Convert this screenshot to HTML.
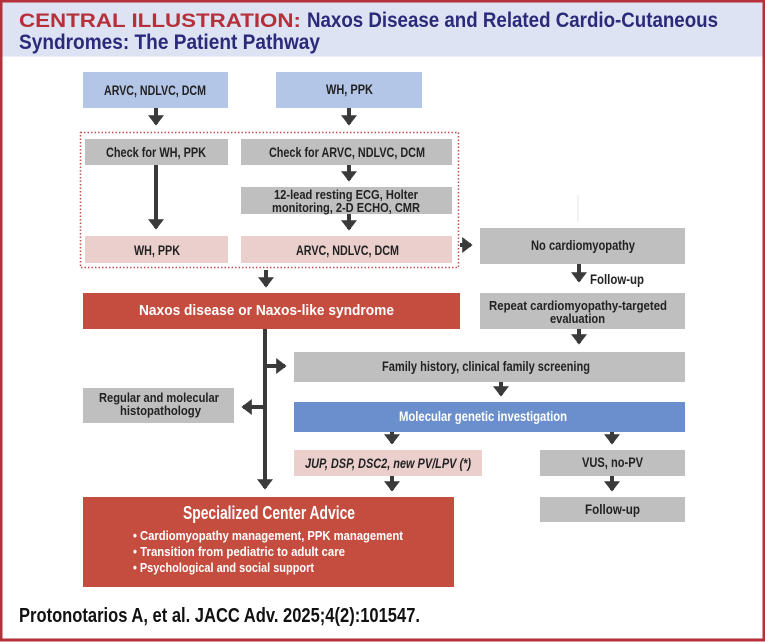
<!DOCTYPE html>
<html><head><meta charset="utf-8"><style>
html,body{margin:0;padding:0;background:#fff}
svg{display:block}
text{font-family:"Liberation Sans",sans-serif;font-weight:bold}
</style></head><body>
<svg width="765" height="642" viewBox="0 0 765 642" xmlns="http://www.w3.org/2000/svg">
<defs><marker id="a" markerWidth="4" markerHeight="4" refX="2.2" refY="2" orient="auto" markerUnits="strokeWidth"><path d="M0,0 L2.6,2 L0,4 Z" fill="#3a3a3a"/></marker></defs>
<rect x="1" y="1" width="763" height="639" fill="#fff" stroke="#b5303a" stroke-width="3"/>
<rect x="2.5" y="2.5" width="760" height="54" fill="#dde3f3"/>
<text x="19" y="27" font-size="19" fill="#b5303a" textLength="282" lengthAdjust="spacingAndGlyphs">CENTRAL ILLUSTRATION:</text>
<text x="307" y="27" font-size="21" fill="#2b2a7a" textLength="411" lengthAdjust="spacingAndGlyphs">Naxos Disease and Related Cardio-Cutaneous</text>
<text x="19" y="49" font-size="21" fill="#2b2a7a" textLength="301" lengthAdjust="spacingAndGlyphs">Syndromes: The Patient Pathway</text>
<g font-size="13.5" fill="#222">
<rect x="83" y="72" width="145" height="36" fill="#b4c6e7"/><text x="104" y="95" textLength="102" lengthAdjust="spacingAndGlyphs">ARVC, NDLVC, DCM</text>
<rect x="276" y="72" width="146" height="36" fill="#b4c6e7"/><text x="326" y="94" textLength="47" lengthAdjust="spacingAndGlyphs">WH, PPK</text>
<rect x="80.5" y="132.5" width="378" height="135" fill="none" stroke="#c0504d" stroke-width="1.5" stroke-dasharray="1.5,2"/>
<rect x="85" y="139" width="143" height="26" fill="#bfbfbf"/><text x="106" y="157" textLength="100" lengthAdjust="spacingAndGlyphs">Check for WH, PPK</text>
<rect x="241" y="139" width="211" height="26" fill="#bfbfbf"/><text x="269" y="157" textLength="156" lengthAdjust="spacingAndGlyphs">Check for ARVC, NDLVC, DCM</text>
<rect x="241" y="187" width="211" height="27" fill="#bfbfbf"/><text x="274" y="199" font-size="12.5" textLength="144" lengthAdjust="spacingAndGlyphs">12-lead resting ECG, Holter</text><text x="272" y="212" font-size="12.5" textLength="148" lengthAdjust="spacingAndGlyphs">monitoring, 2-D ECHO, CMR</text>
<rect x="85" y="236" width="143" height="27" fill="#ebcfcc"/><text x="134" y="255" textLength="46" lengthAdjust="spacingAndGlyphs">WH, PPK</text>
<rect x="241" y="236" width="211" height="27" fill="#ebcfcc"/><text x="296" y="255" textLength="103" lengthAdjust="spacingAndGlyphs">ARVC, NDLVC, DCM</text>
<rect x="480" y="228" width="205" height="36" fill="#bfbfbf"/><text x="531" y="250" textLength="104" lengthAdjust="spacingAndGlyphs">No cardiomyopathy</text>
<text x="590" y="284" textLength="54" lengthAdjust="spacingAndGlyphs">Follow-up</text>
<rect x="83" y="293" width="377" height="36" fill="#c44d3f"/><text x="139" y="315" fill="#fff" font-size="15" textLength="255" lengthAdjust="spacingAndGlyphs">Naxos disease or Naxos-like syndrome</text>
<rect x="480" y="293" width="205" height="36" fill="#bfbfbf"/><text x="489" y="310" font-size="13" textLength="178" lengthAdjust="spacingAndGlyphs">Repeat cardiomyopathy-targeted</text><text x="550" y="323" font-size="13" textLength="55" lengthAdjust="spacingAndGlyphs">evaluation</text>
<rect x="294" y="352" width="391" height="30" fill="#bfbfbf"/><text x="382" y="371" textLength="208" lengthAdjust="spacingAndGlyphs">Family history, clinical family screening</text>
<rect x="294" y="402" width="391" height="30" fill="#6a8fcc"/><text x="399" y="421" fill="#fff" textLength="168" lengthAdjust="spacingAndGlyphs">Molecular genetic investigation</text>
<rect x="83" y="388" width="151" height="35" fill="#bfbfbf"/><text x="99" y="402" font-size="13" textLength="120" lengthAdjust="spacingAndGlyphs">Regular and molecular</text><text x="120" y="415" font-size="13" textLength="81" lengthAdjust="spacingAndGlyphs">histopathology</text>
<rect x="294" y="450" width="188" height="26" fill="#ebcfcc"/><text x="305" y="468" font-style="italic" textLength="166" lengthAdjust="spacingAndGlyphs">JUP, DSP, DSC2, new PV/LPV (*)</text>
<rect x="540" y="450" width="145" height="26" fill="#bfbfbf"/><text x="582" y="467" textLength="61" lengthAdjust="spacingAndGlyphs">VUS, no-PV</text>
<rect x="540" y="497" width="145" height="25" fill="#bfbfbf"/><text x="585" y="514" textLength="55" lengthAdjust="spacingAndGlyphs">Follow-up</text>
<rect x="83" y="497" width="371" height="90" fill="#c44d3f"/>
<text x="183" y="519" fill="#fff" font-size="18" textLength="172" lengthAdjust="spacingAndGlyphs">Specialized Center Advice</text>
<g fill="#fff" font-size="13"><text x="133" y="540" textLength="270" lengthAdjust="spacingAndGlyphs">• Cardiomyopathy management, PPK management</text><text x="133" y="556" textLength="212" lengthAdjust="spacingAndGlyphs">• Transition from pediatric to adult care</text><text x="133" y="572" textLength="181" lengthAdjust="spacingAndGlyphs">• Psychological and social support</text></g>
</g>
<g stroke="#3a3a3a" stroke-width="4" fill="none" marker-end="url(#a)">
<line x1="156" y1="108" x2="156" y2="124"/>
<line x1="349" y1="108" x2="349" y2="124"/>
<line x1="156" y1="165" x2="156" y2="228"/>
<line x1="349" y1="165" x2="349" y2="180"/>
<line x1="349" y1="214" x2="349" y2="229"/>
<line x1="460" y1="245" x2="471" y2="245"/>
<line x1="579" y1="264" x2="579" y2="281"/>
<line x1="266" y1="270" x2="266" y2="286"/>
<line x1="579" y1="329" x2="579" y2="343"/>
<line x1="265" y1="329" x2="265" y2="488"/>
<line x1="265" y1="366" x2="285" y2="366"/>
<line x1="265" y1="407" x2="243" y2="407"/>
<line x1="501" y1="382" x2="501" y2="395"/>
<line x1="392" y1="432" x2="392" y2="443"/>
<line x1="612" y1="432" x2="612" y2="443"/>
<line x1="392" y1="476" x2="392" y2="490"/>
<line x1="612" y1="476" x2="612" y2="490"/>
</g>
<line x1="578" y1="195" x2="578" y2="222" stroke="#e6e6e6" stroke-width="1"/>
<text x="19" y="622" font-size="20" fill="#111" textLength="401" lengthAdjust="spacingAndGlyphs">Protonotarios A, et al. JACC Adv. 2025;4(2):101547.</text>
</svg>
</body></html>
